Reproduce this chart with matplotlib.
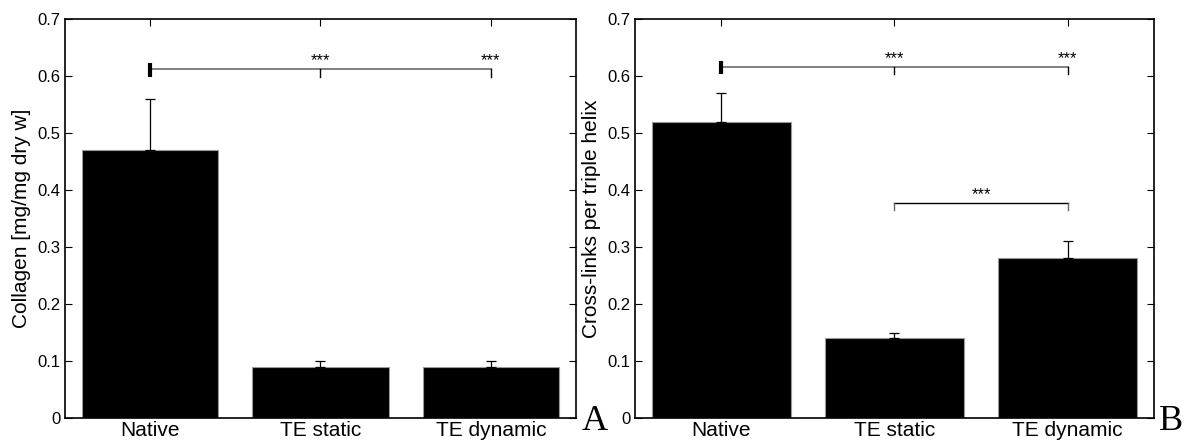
import matplotlib
matplotlib.use("Agg")
import matplotlib.pyplot as plt

categories = ["Native", "TE static", "TE dynamic"]
collagen = [0.47, 0.09, 0.09]
collagen_err = [0.09, 0.01, 0.01]
crosslinks = [0.52, 0.14, 0.28]
crosslinks_err = [0.05, 0.01, 0.03]

# significance brackets: (start, [ends], height)
sig_a = [(1, [2, 3], 0.612)]
sig_b = [(1, [2, 3], 0.616), (2, [3], 0.377)]

plt.rcParams["font.family"] = ["Liberation Sans", "DejaVu Sans"]

fig = plt.figure(figsize=(11.89, 4.43), dpi=100)
ax1 = fig.add_axes([0.0547, 0.0564, 0.4297, 0.9007])
ax2 = fig.add_axes([0.534, 0.0564, 0.4366, 0.9007])


def draw_panel(ax, values, errs, ylabel, brackets):
    x = [1, 2, 3]
    ax.bar(x, values, width=0.8, color="black", edgecolor="#999999",
           linewidth=0.8, zorder=2)
    ax.errorbar(x, values, yerr=[[0] * len(errs), errs], fmt="none",
                ecolor="black", elinewidth=0.9, capsize=3.5, capthick=0.9,
                zorder=3)
    for start, ends, h in brackets:
        if start == 1:
            ax.plot([start, ends[-1]], [h, h], color="#777777", lw=1.3, zorder=4)
            ax.plot([start, start], [h - 0.013, h + 0.011], color="black",
                    lw=3, solid_capstyle="butt", zorder=5)
            for e in ends:
                ax.plot([e, e], [h, h - 0.013], color="black", lw=1, zorder=4)
                ax.text(e, h + 0.001, "***", ha="center", va="bottom",
                        fontsize=12)
        else:
            e = ends[-1]
            ax.plot([start, e], [h, h], color="black", lw=1, zorder=4)
            ax.plot([start, start], [h, h - 0.012], color="#666666", lw=1,
                    zorder=4)
            ax.plot([e, e], [h, h - 0.012], color="#666666", lw=1, zorder=4)
            ax.text((start + e) / 2, h + 0.001, "***", ha="center",
                    va="bottom", fontsize=12)
    ax.set_xlim(0.5, 3.5)
    ax.set_ylim(0, 0.7)
    ax.set_xticks(x)
    ax.set_xticklabels(categories, fontsize=15)
    ax.set_yticks([0, 0.1, 0.2, 0.3, 0.4, 0.5, 0.6, 0.7])
    ax.set_yticklabels(["0", "0.1", "0.2", "0.3", "0.4", "0.5", "0.6", "0.7"],
                       fontsize=12)
    ax.tick_params(axis="x", direction="in", top=True, bottom=False,
                   length=5, pad=2)
    ax.tick_params(axis="y", direction="in", right=True, length=5, pad=3)
    ax.set_ylabel(ylabel, fontsize=15, labelpad=5)
    for s in ax.spines.values():
        s.set_linewidth(1.2)


draw_panel(ax1, collagen, collagen_err, "Collagen [mg/mg dry w]", sig_a)
draw_panel(ax2, crosslinks, crosslinks_err, "Cross-links per triple helix",
           sig_b)

fig.text(0.489, 0.029, "A", fontsize=26, family="Liberation Serif")
fig.text(0.975, 0.029, "B", fontsize=26, family="Liberation Serif")

fig.savefig("out.png", dpi=100)
